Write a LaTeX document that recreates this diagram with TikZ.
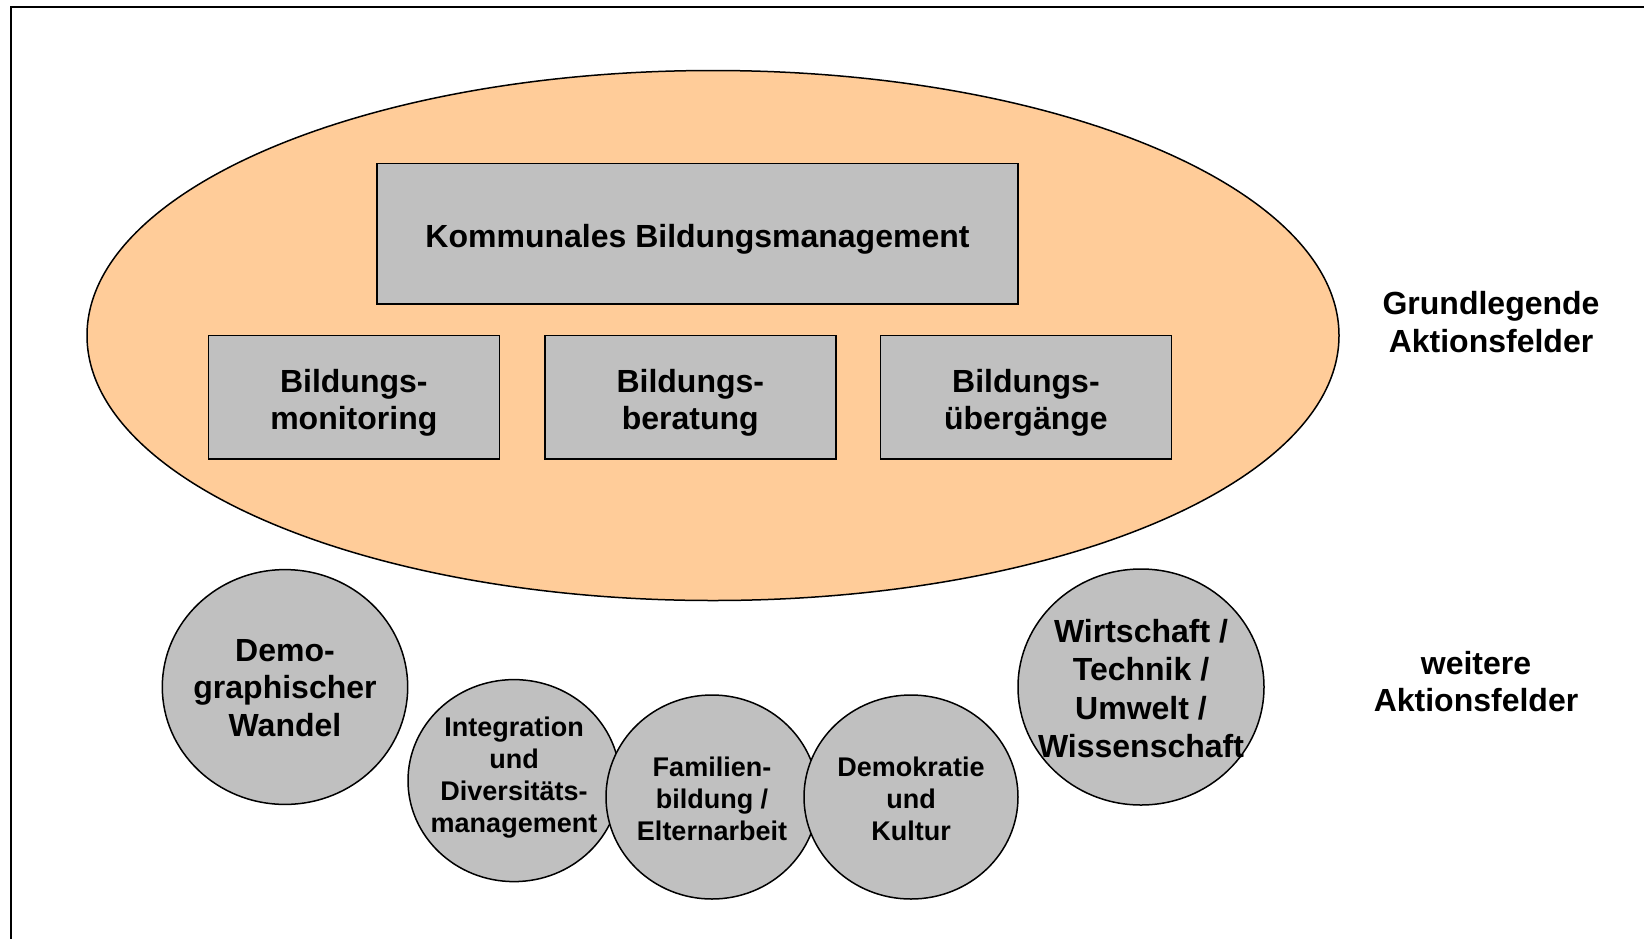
\documentclass[tikz,border=0pt]{standalone}
\usepackage{fontspec}
\setmainfont{Liberation Sans}
\usetikzlibrary{shapes.geometric}
\definecolor{peach}{RGB}{255,204,153}
\definecolor{boxgray}{RGB}{192,192,192}

\begin{document}
\begin{tikzpicture}[x=0.5pt,y=-0.5pt,
        field/.style={draw,fill=boxgray,line width=0.75pt,inner sep=0pt},
        bubble/.style={draw,fill=boxgray,ellipse,line width=0.75pt,inner sep=0pt},
        bigtext/.style={align=center,font=\fontsize{16}{18.6}\selectfont\bfseries},
        smalltext/.style={align=center,font=\fontsize{13.5}{16}\selectfont\bfseries}]
        \useasboundingbox (0,0) rectangle (1644,938);
        %% Frame
        \draw[line width=1pt] (11,960) -- (11,7) -- (1670,7);
        %% Grundlegende Aktionsfelder
        \draw[fill=peach,line width=0.75pt] (713,335.5) ellipse [x radius=313pt,y radius=132.5pt];
        \node[field,minimum width=320.5pt,minimum height=70.25pt] (kbm) at (697.5,233.75) {};
        \node[field,minimum width=145.5pt,minimum height=61.75pt] (mon) at (353.8,397.25) {};
        \node[field,minimum width=145.5pt,minimum height=61.75pt] (ber) at (690.3,397.25) {};
        \node[field,minimum width=145.5pt,minimum height=61.75pt] (ueb) at (1025.9,397.25) {};
        \node[bigtext] at ([yshift=-2.6pt]kbm.center) {Kommunales Bildungsmanagement};
        \node[bigtext] at ([yshift=-2.6pt]mon.center) {Bildungs-\\monitoring};
        \node[bigtext] at ([yshift=-2.6pt]ber.center) {Bildungs-\\beratung};
        \node[bigtext] at ([yshift=-2.6pt]ueb.center) {Bildungs-\\übergänge};
        \node[bigtext] (grund) at (1491,322) {Grundlegende\\Aktionsfelder};
        %% weitere Aktionsfelder
        \node[bubble,minimum width=122.7pt,minimum height=117.4pt] (demo) at (285,687) {};
        \node[bubble,minimum width=106pt,minimum height=101pt] (integ) at (514,780.6) {};
        \node[bubble,minimum width=106pt,minimum height=102pt] (fam) at (712,797) {};
        \node[bubble,minimum width=107pt,minimum height=102pt] (demok) at (911,797) {};
        \node[bubble,minimum width=123pt,minimum height=118pt] (wirt) at (1141,687) {};
        \node[bigtext,font=\fontsize{16}{18.8}\selectfont\bfseries] at ([yshift=-0.5pt]demo.center) {Demo-\\graphischer\\Wandel};
        \node[smalltext] at ([yshift=1.5pt]integ.center) {Integration\\und\\Diversitäts-\\management};
        \node[smalltext] at ([yshift=-0.8pt]fam.center) {Familien-\\bildung /\\Elternarbeit};
        \node[smalltext] at ([yshift=-0.8pt]demok.center) {Demokratie\\und\\Kultur};
        \node[bigtext,font=\fontsize{16}{19.2}\selectfont\bfseries] at ([yshift=-0.8pt]wirt.center) {Wirtschaft /\\Technik /\\Umwelt /\\Wissenschaft};
        \node[bigtext] (weit) at (1476,681.5) {weitere\\Aktionsfelder};
    \end{tikzpicture}
\end{document}
